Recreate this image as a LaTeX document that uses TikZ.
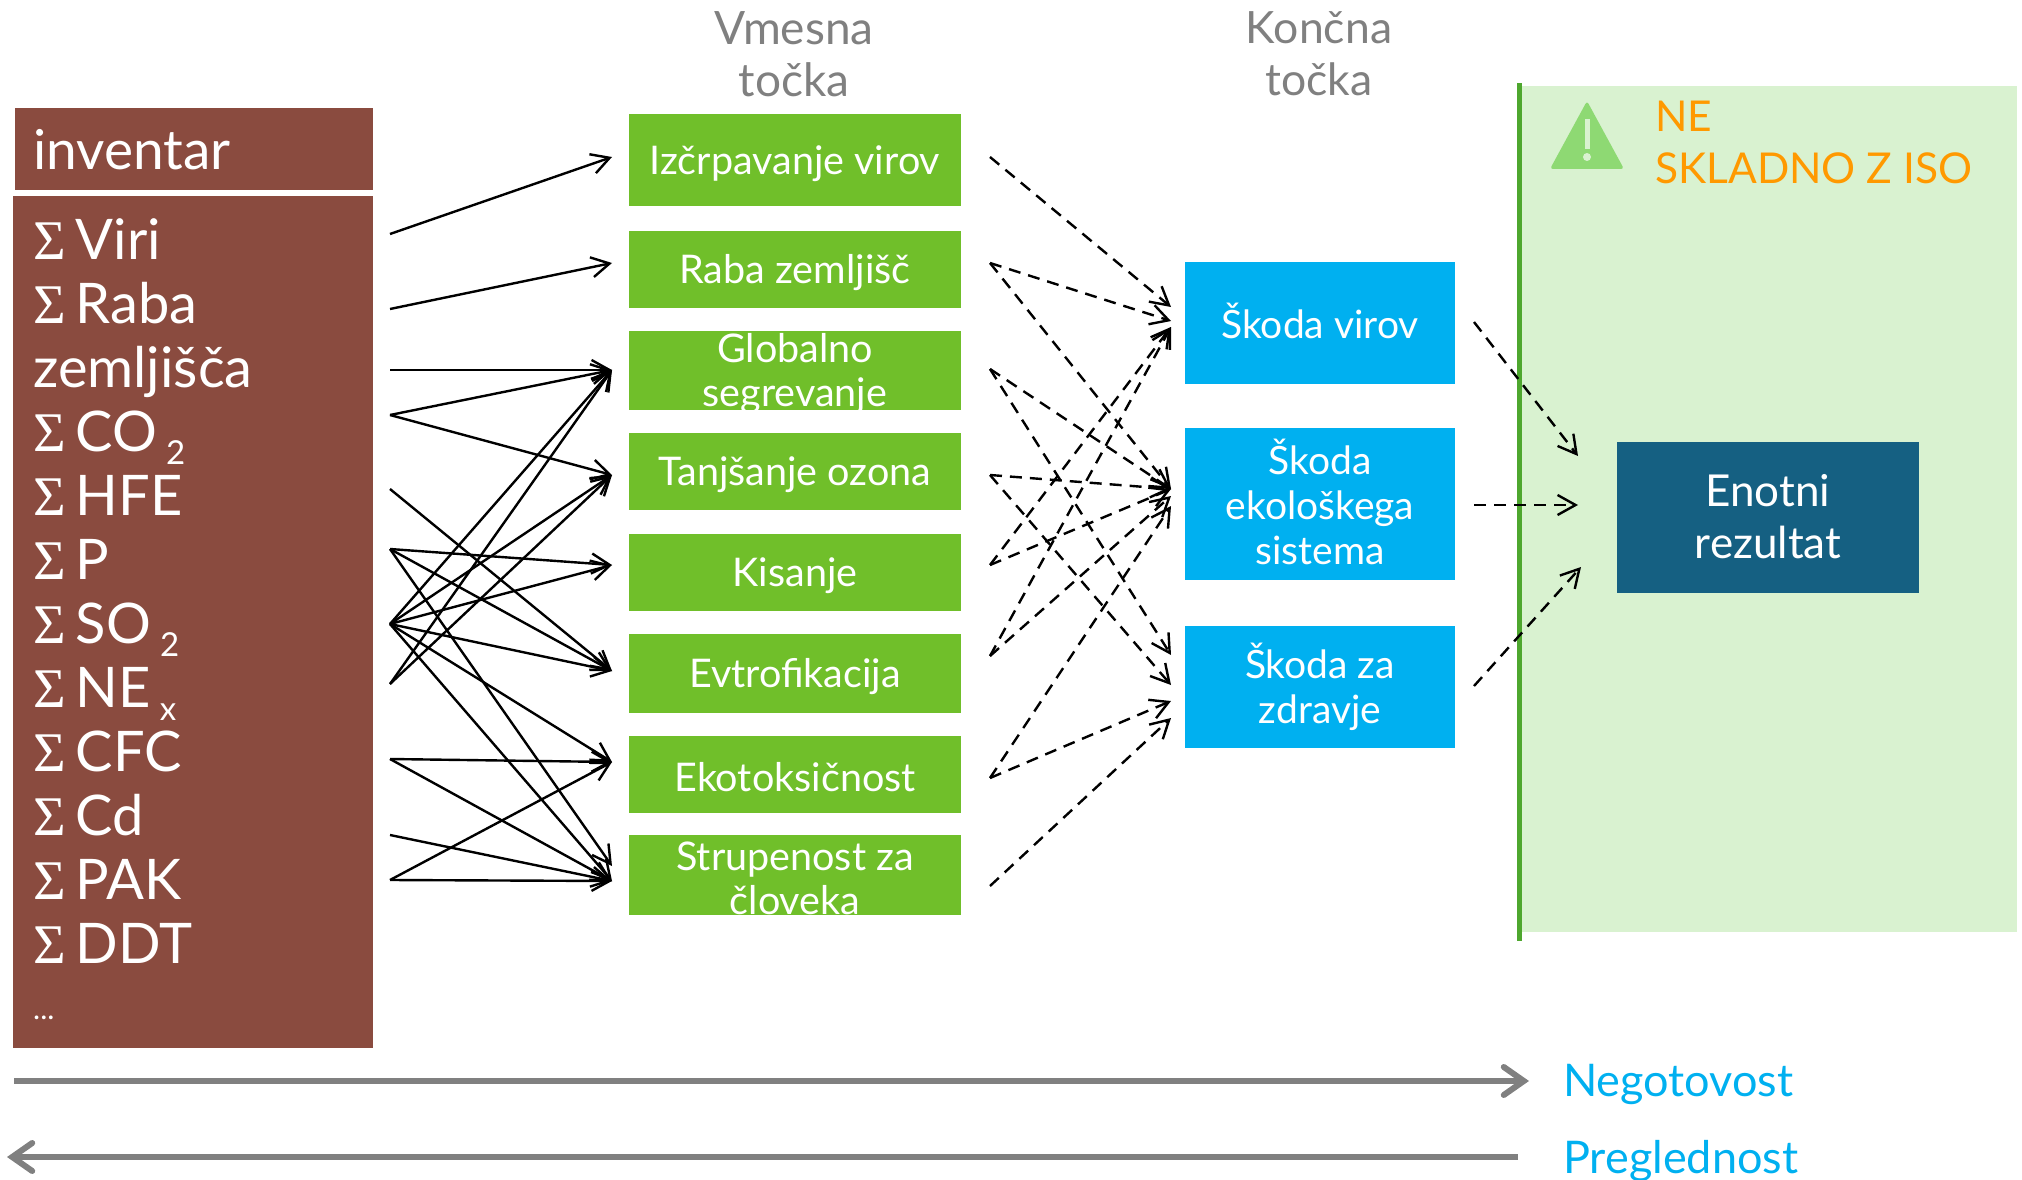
\documentclass[tikz,border=0pt]{standalone}
\usepackage{fontspec}
\setmainfont{Lato}
\newfontfamily\sigfont{Liberation Serif}
\usepackage{tikz}
\usetikzlibrary{positioning}
\usetikzlibrary{arrows.meta}
\definecolor{brownfill}{HTML}{8A4B3F}
\definecolor{greenfill}{HTML}{70BF2A}
\definecolor{bluefill}{HTML}{00B0F0}
\definecolor{darkfill}{HTML}{156082}
\definecolor{bandfill}{HTML}{D9F2D0}
\definecolor{bandline}{HTML}{4EA72E}
\definecolor{warnfill}{HTML}{8ED973}
\definecolor{warntext}{HTML}{FF9900}
\definecolor{greyline}{HTML}{808080}
\newcommand{\sumof}{{\sigfont Σ}\hspace{10pt}}
\newcommand{\lowidx}[1]{\hspace{9pt}\raisebox{-13pt}{\fontsize{33}{33}\selectfont #1}}
\tikzset{
	greenbox/.style={fill=greenfill, text=white, minimum width=332pt, inner sep=0pt, align=center, font=\fontsize{39.5}{44}\selectfont, execute at begin node={\rule{0pt}{36pt}}},
	bluebox/.style={fill=bluefill, text=white, minimum width=270pt, inner sep=0pt, align=center, font=\fontsize{39}{45}\selectfont},
	headtext/.style={text=greyline, align=center, font=\fontsize{46}{52}\selectfont},
	sidetext/.style={anchor=base west, inner sep=0pt, font=\fontsize{45}{52}\selectfont},
	dashline/.style={dash pattern=on 12pt off 8pt},
	bigarrow/.style={greyline, line width=6pt, -{Straight Barb[length=20pt,width=28pt,line cap=round]}}
}
\begin{document}
\begin{tikzpicture}[->,>={Straight Barb[length=18pt,width=20pt]},line width=2.4pt,x=1pt,y=-1pt,node distance=101pt]
		\useasboundingbox (0,0) rectangle (2022,1180);
		% right band
		\fill [bandfill] (1522,86) rectangle (2017,932);
		\fill [bandline] (1517,83) rectangle (1522,941);
		\fill [warnfill, rounded corners=3pt] (1587,101) -- (1624,169) -- (1550,169) -- cycle;
		\fill [bandfill] (1584.5,119) rectangle (1589.5,149);
		\fill [bandfill] (1587,157) circle (4);
		\node (warn) [sidetext, text=warntext, align=left, anchor=north west, font=\fontsize{42.5}{52}\selectfont] at (1654,100) {NE\\SKLADNO Z ISO};
		% left column
		\node (inv) [fill=brownfill, text=white, anchor=north west, minimum width=358pt, minimum height=82pt, inner sep=0pt, text width=322pt, font=\fontsize{55}{64}\selectfont] at (14,107) {inventar};
		\node (list) [fill=brownfill, text=white, anchor=north west, minimum width=360pt, minimum height=852pt, inner sep=0pt, text width=320pt, align=left, font=\fontsize{56}{64}\selectfont] at (12,195) {\rule{0pt}{42pt}\sumof Viri\\\sumof Raba\\zemljišča\\\sumof CO\lowidx{2}\\\sumof HFE\\\sumof P\\\sumof SO\lowidx{2}\\\sumof NE\lowidx{x}\\\sumof CFC\\\sumof Cd\\\sumof PAK\\\sumof DDT\\\raisebox{8pt}{\fontsize{30}{64}\selectfont ...}};
		% midpoints
		\node (vm) [headtext] at (794,54) {Vmesna\\točka};
		\node (g1) [greenbox, minimum height=91pt] at (795,160) {Izčrpavanje virov};
		\node (g2) [greenbox, minimum height=77pt, below of = g1, yshift=-8pt] {Raba zemljišč};
		\node (g3) [greenbox, minimum height=79pt, below of = g2] {Globalno\\\smash{segrevanje}};
		\node (g4) [greenbox, minimum height=77pt, below of = g3] {Tanjšanje ozona};
		\node (g5) [greenbox, minimum height=77pt, below of = g4] {Kisanje};
		\node (g6) [greenbox, minimum height=79pt, below of = g5] {Evtrofikacija};
		\node (g7) [greenbox, minimum height=77pt, below of = g6] {Ekotoksičnost};
		\node (g8) [greenbox, minimum height=79pt, below of = g7] {\rule{0pt}{35pt}Strupenost za\\človeka};
		% endpoints
		\node (kn) [headtext, font=\fontsize{44.5}{52}\selectfont] at (1319,54) {Končna\\točka};
		\node (b1) [bluebox, minimum height=122pt, text depth=5pt] at (1320,323) {Škoda virov};
		\node (b2) [bluebox, minimum height=152pt, below of = b1, yshift=-80pt] {Škoda\\ekološkega\\\rule[-5pt]{0pt}{1pt}sistema};
		\node (b3) [bluebox, minimum height=122pt, below of = b2, yshift=-82pt] {Škoda za\\zdravje};
		\node (res) [fill=darkfill, text=white, minimum width=302pt, minimum height=151pt, inner sep=0pt, align=center, font=\fontsize{44}{52}\selectfont] at (1768,517) {Enotni\\rezultat};
		% free ends of the solid arrows
		\coordinate (s1) at (390,234);
		\coordinate (s2) at (390,309);
		\coordinate (s3) at (390,370);
		\coordinate (s4) at (390,415);
		\coordinate (s5) at (390,489);
		\coordinate (s6) at (390,549);
		\coordinate (s7) at (390,624);
		\coordinate (s8) at (390,684);
		\coordinate (s9) at (390,759);
		\coordinate (s10) at (390,835);
		\coordinate (s11) at (390,880);
		\coordinate (t1) at (612,157);
		\coordinate (t2) at (612,263);
		\coordinate (t3) at (612,370);
		\coordinate (t4) at (612,475);
		\coordinate (t5) at (612,565);
		\coordinate (t6) at (612,671);
		\coordinate (t7) at (612,762);
		\coordinate (t8) at (612,881);
		\coordinate (t9) at (612,866);
		\draw (s1) -> (t1);
		\draw (s2) -> (t2);
		\draw (s3) -> (t3);
		\draw (s4) -> (t3);
		\draw (s4) -> (t4);
		\draw (s5) -> (t6);
		\draw (s6) -> (t5);
		\draw (s6) -> (t6);
		\draw (s6) -> (t9);
		\draw (s7) -> (t3);
		\draw (s7) -> (t4);
		\draw (s7) -> (t5);
		\draw (s7) -> (t6);
		\draw (s7) -> (t7);
		\draw (s7) -> (t8);
		\draw (s8) -> (t3);
		\draw (s8) -> (t4);
		\draw (s9) -> (t7);
		\draw (s9) -> (t8);
		\draw (s10) -> (t8);
		\draw (s11) -> (t7);
		\draw (s11) -> (t8);
		% free ends of the dashed arrows
		\coordinate (d1) at (990,157);
		\coordinate (d2) at (990,263);
		\coordinate (d3) at (990,369);
		\coordinate (d4) at (990,475);
		\coordinate (d5) at (990,565);
		\coordinate (d6) at (990,656);
		\coordinate (d7) at (990,778);
		\coordinate (d8) at (990,886);
		\coordinate (e1) at (1171,307);
		\coordinate (e2) at (1171,321);
		\coordinate (e3) at (1171,327);
		\coordinate (e4) at (1171,489);
		\coordinate (e5) at (1171,496);
		\coordinate (e6) at (1171,506);
		\coordinate (e7) at (1171,655);
		\coordinate (e8) at (1171,685);
		\coordinate (e9) at (1171,701);
		\coordinate (e10) at (1171,718);
		\draw [dashline] (d1) -> (e1);
		\draw [dashline] (d2) -> (e2);
		\draw [dashline] (d2) -> (e4);
		\draw [dashline] (d3) -> (e4);
		\draw [dashline] (d3) -> (e7);
		\draw [dashline] (d4) -> (e4);
		\draw [dashline] (d4) -> (e8);
		\draw [dashline] (d5) -> (e3);
		\draw [dashline] (d5) -> (e4);
		\draw [dashline] (d6) -> (e3);
		\draw [dashline] (d6) -> (e5);
		\draw [dashline] (d7) -> (e6);
		\draw [dashline] (d7) -> (e9);
		\draw [dashline] (d8) -> (e10);
		% into the result box
		\coordinate (f1) at (1474,322);
		\coordinate (f2) at (1474,505);
		\coordinate (f3) at (1474,686);
		\coordinate (f4) at (1578,456);
		\coordinate (f5) at (1578,505);
		\coordinate (f6) at (1581,567);
		\draw [dashline] (f1) -> (f4);
		\draw [dashline] (f2) -> (f5);
		\draw [dashline] (f3) -> (f6);
		% bottom arrows
		\coordinate (u0) at (14,1081);
		\coordinate (u1) at (1529,1081);
		\coordinate (v0) at (1518,1157);
		\coordinate (v1) at (7,1157);
		\draw [bigarrow] (u0) -- (u1);
		\draw [bigarrow] (v0) -- (v1);
		\node (neg) [sidetext, text=bluefill] at (1562,1096) {Negotovost};
		\node (pre) [sidetext, text=bluefill] at (1562,1173) {Preglednost};
		\end{tikzpicture}
\end{document}
